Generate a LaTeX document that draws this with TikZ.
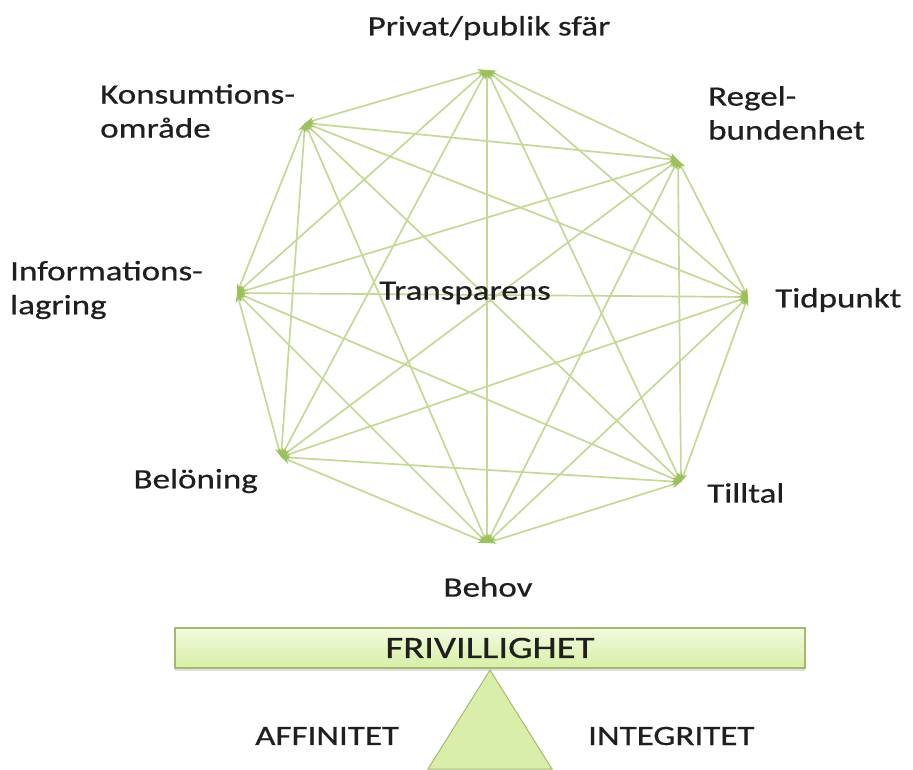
\documentclass[tikz,border=0pt]{standalone}
\usepackage{fontspec}
\setmainfont{Carlito}[FakeStretch=1.25,FakeBold=0.6]
\usetikzlibrary{arrows.meta,shadows}

\definecolor{linegreen}{RGB}{196,216,152}
\definecolor{tipgreen}{RGB}{155,192,92}
\definecolor{barline}{RGB}{165,186,112}
\definecolor{bartop}{RGB}{242,250,222}
\definecolor{barbot}{RGB}{214,240,166}
\definecolor{trifill}{RGB}{216,238,170}

\tikzset{
  edge/.style={draw=linegreen, line width=1.7pt,
    {Stealth[length=9pt,width=7pt,color=tipgreen]}-{Stealth[length=9pt,width=7pt,color=tipgreen]}},
  lbl/.style={font=\fontsize{28}{34}\selectfont, text=black!88, align=left, inner sep=0pt},
  caps/.style={font=\fontsize{28}{32}\selectfont, text=black!88, inner sep=0pt}
}

\begin{document}
\begin{tikzpicture}[x=1pt,y=-1pt]

        \useasboundingbox (0,0) rectangle (913,769);

        \coordinate (v1) at (487,70);   % privat
        \coordinate (v2) at (678,160);  % regel
        \coordinate (v3) at (748,297);  % tidpunkt
        \coordinate (v4) at (681,482);  % tilltal
        \coordinate (v5) at (487,543);  % behov
        \coordinate (v6) at (281,457);  % beloning
        \coordinate (v7) at (237,293);  % information
        \coordinate (v8) at (305,123);  % konsumtion

        % every pair of corners
        \foreach \i in {1,...,7}{
            \pgfmathtruncatemacro\k{\i+1}
            \foreach \j in {\k,...,8}{
                \draw[edge] (v\i) -- (v\j);
            }
        }

        \node[lbl] (privat) at (489,28) {Privat/publik sfär};
        \node[lbl, anchor=west] (regel) at (708,113) {Regel-\\bundenhet};
        \node[lbl, anchor=west] (tid) at (775,300) {Tidpunkt};
        \node[lbl, anchor=west] (tilltal) at (707,493) {Tilltal};
        \node[lbl] (behov) at (488,587) {Behov};
        \node[lbl, anchor=east] (beloning) at (258,481) {Belöning};
        \node[lbl, anchor=west] (info) at (10,290) {Informations-\\lagring};
        \node[lbl, anchor=west] (konsum) at (100,111) {Konsumtions-\\område};
        \node[lbl] (transp) at (465,293) {Transparens};

        % balance at the bottom
        \node[draw=barline, line width=1.2pt, top color=bartop, bottom color=barbot,
              drop shadow={opacity=0.25, shadow xshift=0pt, shadow yshift=-3pt},
              minimum width=630pt, minimum height=40pt, caps,
              font=\fontsize{31}{34}\selectfont] (bar) at (490,648) {FRIVILLIGHET};
        \coordinate (apex) at (490,670);
        \coordinate (baseL) at (428,769);
        \coordinate (baseR) at (552,769);
        \filldraw[fill=trifill, draw=barline, line width=1pt] (apex) -- (baseR) -- (baseL) -- cycle;

        \node[caps, anchor=west] (affin) at (255,736) {AFFINITET};
        \node[caps, anchor=west] (integ) at (588,736) {INTEGRITET};

\end{tikzpicture}
\end{document}
